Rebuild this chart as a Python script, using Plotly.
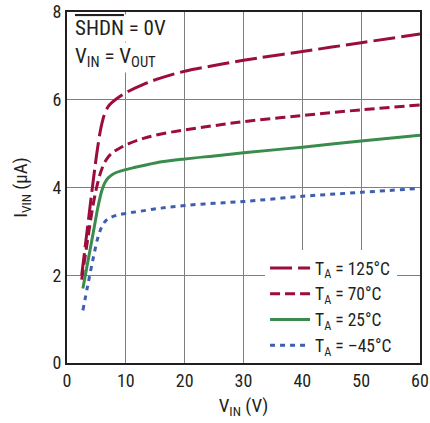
import plotly.graph_objects as go

# Data
names = ["T<sub>A</sub> = 125°C", "T<sub>A</sub> = 70°C", "T<sub>A</sub> = 25°C", "T<sub>A</sub> = –45°C"]

vin_125 = [2.5, 3.5, 4.5, 5.2, 5.8, 6.4, 7.2, 8.5, 10, 13, 16, 20, 25, 30, 40, 50, 60]
iv_125 = [2.0, 3.1, 4.2, 4.9, 5.38, 5.68, 5.88, 6.03, 6.16, 6.35, 6.5, 6.65, 6.78, 6.9, 7.1, 7.3, 7.5]

vin_70 = [2.5, 3.5, 4.5, 5.3, 6.0, 6.8, 7.8, 9, 10.5, 13, 16, 20, 25, 30, 40, 50, 60]
iv_70 = [1.9, 2.8, 3.65, 4.15, 4.45, 4.66, 4.8, 4.9, 5.0, 5.12, 5.22, 5.31, 5.41, 5.5, 5.64, 5.77, 5.88]

vin_25 = [2.7, 3.6, 4.5, 5.3, 5.9, 6.4, 7.0, 8.0, 9.5, 11.6, 15, 20, 25, 30, 40, 50, 60]
iv_25 = [1.7, 2.35, 3.0, 3.58, 3.92, 4.1, 4.22, 4.32, 4.39, 4.46, 4.56, 4.65, 4.72, 4.79, 4.92, 5.06, 5.19]

vin_m45 = [2.7, 3.5, 4.5, 5.3, 5.9, 6.5, 7.3, 8.5, 10, 12, 16, 20, 25, 30, 40, 50, 60]
iv_m45 = [1.2, 1.75, 2.42, 2.88, 3.1, 3.23, 3.31, 3.37, 3.41, 3.45, 3.53, 3.59, 3.64, 3.68, 3.8, 3.89, 3.98]

x_ticks = [0, 10, 20, 30, 40, 50, 60]
y_ticks = [0, 2, 4, 6, 8]

series = [
    (vin_125, iv_125, "#9b0d3a", "22px,6px"),
    (vin_70, iv_70, "#9b0d3a", "10px,5px"),
    (vin_25, iv_25, "#3a8c4c", "solid"),
    (vin_m45, iv_m45, "#3e5fae", "5px,5px"),
]

FONT = "Liberation Sans Narrow, Roboto Condensed, Arial Narrow, Liberation Sans, sans-serif"

fig = go.Figure()
for (xs, ys, col, dash), nm in zip(series, names):
    fig.add_trace(go.Scatter(x=xs, y=ys, mode="lines", name=nm,
                             line=dict(color=col, width=3, dash=dash, shape="spline", smoothing=1.0)))

fig.update_layout(
    width=430, height=423,
    margin=dict(l=67, r=10, t=12, b=60),
    paper_bgcolor="white", plot_bgcolor="white",
    font=dict(family=FONT, size=18, color="#231f20"),
    showlegend=True,
    legend=dict(x=0.935, y=0.0, xanchor="right", yanchor="bottom",
                bgcolor="white", borderwidth=0, tracegroupgap=0,
                font=dict(size=17.5), itemwidth=40),
    xaxis=dict(range=[0, 60], tickvals=x_ticks, showgrid=True, gridcolor="#7f7f7f", gridwidth=1.2,
               showline=True, linecolor="#231f20", linewidth=2, mirror=True, ticks="",
               zeroline=False, tickfont=dict(size=18), automargin=False, ticklabeloverflow="allow",
               title=dict(text="V<sub>IN</sub> (V)", font=dict(size=19), standoff=9)),
    yaxis=dict(range=[0, 8], tickvals=y_ticks, showgrid=True, gridcolor="#7f7f7f", gridwidth=1.2,
               showline=True, linecolor="#231f20", linewidth=2, mirror=True, ticks="",
               zeroline=False, tickfont=dict(size=18), automargin=False, ticklabeloverflow="allow",
               title=dict(text="I<sub>VIN</sub> (µA)", font=dict(size=19), standoff=20)),
)

fig.add_annotation(xref="paper", yref="paper", x=0.018, y=0.995, xanchor="left", yanchor="top",
                   text="<span style='text-decoration:overline'>SHDN</span> = 0V", showarrow=False,
                   font=dict(size=21), bgcolor="white")
fig.add_annotation(xref="paper", yref="paper", x=0.018, y=0.915, xanchor="left", yanchor="top",
                   text="V<sub>IN</sub> = V<sub>OUT</sub>", showarrow=False,
                   font=dict(size=21), bgcolor="white")

fig.write_html("out.html", config={"displayModeBar": False},
               post_script="document.body.style.margin='0px';document.body.style.overflow='hidden';")
